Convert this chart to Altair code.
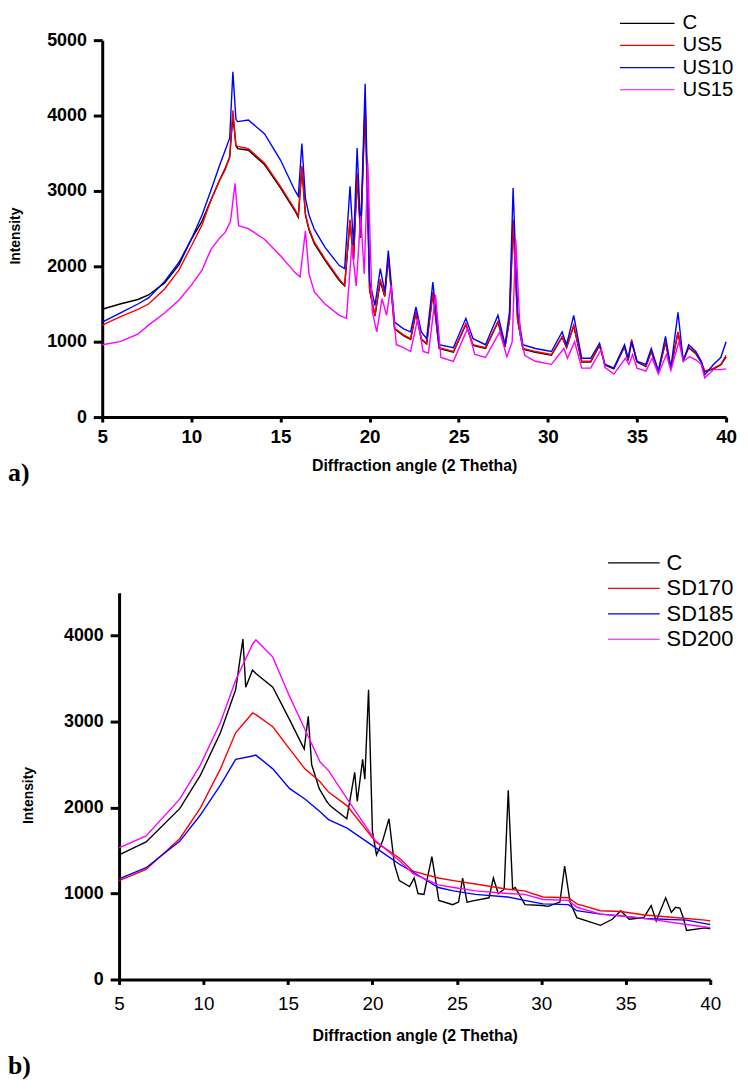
import altair as alt
import pandas as pd

# ---------------- panel a) ----------------
A_NAMES = ["C", "US5", "US10", "US15"]
A_COLORS = ["#000000", "#ff0000", "#0000ff", "#ff00ff"]

A_X = [5, 6, 7, 7.6, 8.5, 9.3, 10, 10.6, 11.1, 11.6, 11.9, 12.15, 12.33, 12.5, 12.6, 13.2, 14.1,
       15, 15.8, 16.0, 16.2, 16.4, 16.6, 16.9, 17.5, 18.3, 18.6, 18.9, 19.1, 19.3, 19.5, 19.75,
       20.0, 20.3, 20.6, 20.85, 21.05, 21.4, 21.9, 22.3, 22.6, 22.9, 23.2, 23.55, 23.9, 24.7,
       25.4, 25.8, 26.5, 27.2, 27.6, 27.85, 28.05, 28.3, 28.6, 29.3, 30.2, 30.8, 31.05, 31.45,
       31.9, 32.4, 32.9, 33.2, 33.7, 34.3, 34.5, 34.7, 35.0, 35.5, 35.8, 36.2, 36.6, 36.9, 37.3,
       37.6, 37.9, 38.3, 38.6, 38.8, 39.3, 39.7, 40.0]
A_C = [1430, 1500, 1560, 1620, 1780, 2020, 2360, 2600, 2880, 3150, 3300, 3450, 4000, 3600, 3560,
       3540, 3350, 3040, 2740, 2650, 3300, 2680, 2480, 2300, 2080, 1810, 1740, 2600, 2080, 3200,
       2380, 4150, 1680, 1340, 1800, 1600, 2120, 1170, 1080, 1030, 1380, 1030, 970, 1640, 910,
       860, 1230, 950, 910, 1260, 930, 1290, 2600, 1290, 900, 860, 820, 1060, 920, 1210, 730,
       730, 950, 690, 640, 930, 750, 1000, 730, 670, 870, 600, 990, 640, 1120, 750, 920, 840,
       730, 600, 640, 690, 800]
A_US5 = [1220, 1330, 1430, 1500, 1700, 1950, 2270, 2550, 2880, 3150, 3280, 3450, 4070, 3600, 3590,
         3560, 3370, 3060, 2760, 2670, 3330, 2700, 2500, 2320, 2100, 1830, 1750, 2620, 2100, 3240,
         2400, 4200, 1700, 1350, 1830, 1610, 2140, 1180, 1090, 1040, 1400, 1040, 980, 1660, 920,
         870, 1240, 960, 920, 1270, 940, 1300, 2620, 1300, 910, 870, 830, 1070, 930, 1220, 740,
         740, 960, 700, 650, 940, 760, 1030, 740, 680, 880, 610, 1000, 650, 1130, 760, 930, 850,
         740, 610, 650, 700, 820]
A_US10 = [1260, 1380, 1500, 1580, 1800, 2050, 2360, 2680, 3010, 3350, 3540, 3700, 4580, 3950, 3920,
          3940, 3760, 3410, 3010, 2930, 3630, 2900, 2680, 2490, 2250, 2010, 1970, 3060, 2280, 3570,
          2450, 4420, 1800, 1480, 1970, 1660, 2210, 1260, 1170, 1130, 1460, 1130, 1040, 1790, 960,
          920, 1310, 1040, 960, 1350, 960, 1400, 3040, 1400, 960, 910, 870, 1130, 960, 1350, 780,
          780, 980, 700, 650, 960, 780, 1000, 740, 700, 910, 610, 1070, 650, 1390, 740, 960, 870,
          740, 560, 700, 790, 1000]
A_X15 = [5, 6, 7, 7.6, 8.5, 9.3, 10, 10.6, 11.1, 11.6, 11.9, 12.2, 12.45, 12.65, 13.2, 14.1, 15,
         15.8, 16.1, 16.4, 16.6, 16.9, 17.5, 18.3, 18.7, 19.0, 19.25, 19.5, 19.7, 19.9, 20.15, 20.4,
         20.7, 20.95, 21.2, 21.5, 21.9, 22.3, 22.7, 23.0, 23.3, 23.7, 24.0, 24.7, 25.5, 25.9, 26.5,
         27.3, 27.7, 28.0, 28.2, 28.45, 28.7, 29.3, 30.2, 30.9, 31.1, 31.5, 31.9, 32.4, 33.0, 33.2,
         33.7, 34.35, 34.55, 34.75, 35.0, 35.5, 35.85, 36.2, 36.65, 36.9, 37.35, 37.6, 37.95, 38.3,
         38.6, 38.8, 39.3, 39.7, 40.0]
A_US15 = [960, 1000, 1100, 1220, 1380, 1550, 1750, 1950, 2225, 2380, 2450, 2600, 3100, 2540, 2500,
          2360, 2140, 1920, 1860, 2470, 1900, 1660, 1500, 1350, 1310, 2270, 1740, 2670, 1900, 3370,
          1400, 1130, 1570, 1350, 1750, 960, 920, 870, 1310, 870, 850, 1620, 790, 740, 1180, 830,
          790, 1130, 800, 1000, 2360, 1100, 820, 740, 700, 910, 780, 1000, 650, 650, 900, 660, 570,
          780, 700, 830, 650, 610, 780, 570, 830, 620, 1000, 740, 800, 760, 700, 520, 630, 630, 640]

# ---------------- panel b) ----------------
B_NAMES = ["C", "SD170", "SD185", "SD200"]
B_COLORS = ["#000000", "#ff0000", "#0000ff", "#ff00ff"]

B_XC = [5, 6.6, 8.6, 9.8, 11.0, 11.9, 12.33, 12.5, 12.9, 13.1, 14.1, 15.1, 15.96, 16.2, 16.4, 16.85,
        17.3, 17.5, 18.48, 18.95, 19.1, 19.42, 19.55, 19.77, 20.0, 20.24, 20.6, 20.98, 21.3, 21.59,
        22.2, 22.47, 22.7, 23.05, 23.52, 23.93, 24.75, 25.1, 25.34, 25.6, 26.1, 26.9, 27.16, 27.45,
        27.8, 28.04, 28.3, 28.45, 29.03, 30.09, 30.4, 31.1, 31.38, 31.7, 32.1, 33.5, 34.2, 34.7,
        35.2, 36.07, 36.5, 36.8, 37.36, 37.7, 37.94, 38.2, 38.4, 38.6, 39.7, 40.0]
B_C = [1450, 1600, 1990, 2370, 2870, 3370, 3960, 3400, 3600, 3560, 3400, 3020, 2680, 3060, 2500,
       2220, 2070, 2020, 1870, 2410, 2070, 2560, 2330, 3370, 1720, 1450, 1610, 1870, 1340, 1150,
       1080, 1180, 1000, 990, 1430, 920, 870, 900, 1180, 900, 920, 950, 1180, 1000, 1050, 2200,
       1050, 1070, 870, 860, 850, 900, 1320, 900, 720, 630, 700, 800, 700, 720, 860, 680, 950,
       780, 840, 830, 720, 570, 600, 590]
B_X = [5, 6.6, 8.6, 9.8, 11.0, 11.9, 12.9, 13.1, 14.1, 15.1, 16.0, 16.9, 17.4, 18.5, 20.2, 21.6,
       22.4, 23.9, 24.8, 26.1, 28.0, 29.0, 30.1, 31.6, 32.1, 33.5, 34.7, 36.1, 38.6, 39.7, 40.0]
B_SD170 = [1150, 1280, 1640, 1990, 2450, 2870, 3100, 3080, 2940, 2680, 2450, 2300, 2180, 2020, 1600,
           1410, 1260, 1180, 1150, 1110, 1050, 1030, 960, 950, 880, 800, 790, 750, 710, 690, 680]
B_SD185 = [1170, 1300, 1610, 1910, 2260, 2560, 2600, 2610, 2450, 2220, 2100, 1950, 1860, 1760, 1530,
           1340, 1250, 1070, 1030, 990, 960, 920, 880, 870, 800, 760, 740, 710, 690, 650, 640]
B_SD200 = [1530, 1670, 2100, 2490, 2990, 3480, 3900, 3950, 3750, 3290, 2910, 2530, 2430, 2100, 1610,
           1380, 1230, 1100, 1070, 1030, 1000, 990, 930, 920, 840, 760, 740, 710, 640, 610, 600]

X_TICKS = [5, 10, 15, 20, 25, 30, 35, 40]
A_Y_TICKS = [0, 1000, 2000, 3000, 4000, 5000]
B_Y_TICKS = [0, 1000, 2000, 3000, 4000]
X_TITLE = "Diffraction angle (2 Thetha)"
Y_TITLE = "Intensity"


def long_df(names, xs, ys):
    rows = []
    for k, (n, xv, yv) in enumerate(zip(names, xs, ys)):
        for a, b in zip(xv, yv):
            rows.append({"series": n, "ord": k, "x": a, "y": b})
    return pd.DataFrame(rows)


df_a = long_df(A_NAMES, [A_X, A_X, A_X, A_X15], [A_C, A_US5, A_US10, A_US15])
df_b = long_df(B_NAMES, [B_XC, B_X, B_X, B_X], [B_C, B_SD170, B_SD185, B_SD200])

SANS = "Liberation Sans"
NARROW = "'Liberation Sans Narrow', 'Arial Narrow', 'Liberation Sans', sans-serif"

# layout of the single canvas (pixels, relative to panel a's plot origin)
W = 629
H = 947
A_YR = [380, 0]
B_XR = [17, 613]
B_YR = [947, 557]


def axis_common():
    return dict(labelColor="black", labelOverlap=False, tickColor="black", tickWidth=3,
                domainColor="black", domainWidth=3, grid=False, titleColor="black", titleFont=SANS)


def lines_layer(df, names, colors, xr, yr, ydom, yticks, x_offset, y_offset, ytitle_xy,
                xtitle_y, xlab_weight, xlab_font, xlab_pad):
    return alt.Chart(df).mark_line(strokeWidth=1.4).encode(
        x=alt.X("x:Q", scale=alt.Scale(domain=[5, 40], range=xr, nice=False, zero=False),
                axis=alt.Axis(orient="bottom", offset=x_offset, values=X_TICKS, format="d",
                              title=X_TITLE, titleFontSize=16, titleFontWeight="bold",
                              titleY=xtitle_y, titleBaseline="middle",
                              labelFont=xlab_font, labelFontSize=19, labelFontWeight=xlab_weight,
                              labelFlush=False, labelPadding=xlab_pad, tickSize=5,
                              **axis_common())),
        y=alt.Y("y:Q", scale=alt.Scale(domain=ydom, range=yr, nice=False),
                axis=alt.Axis(orient="left", offset=y_offset, values=yticks, format="d",
                              title=Y_TITLE, titleFontSize=14, titleFontWeight="bold",
                              titleX=ytitle_xy[0], titleY=ytitle_xy[1], titleAngle=270,
                              titleAlign="center", titleBaseline="middle",
                              labelFont=SANS, labelFontSize=18, labelFontWeight="bold",
                              labelPadding=7, tickSize=9, **axis_common())),
        color=alt.Color("series:N", scale=alt.Scale(domain=names, range=colors), legend=None),
        order=alt.Order("x:Q"),
    )


def legend_layers(names, colors, xs, rows, fsize):
    leg_df = pd.DataFrame({"series": names, "row": list(range(len(names)))})
    ly = alt.Y("row:Q", scale=alt.Scale(domain=[0, len(names) - 1], range=rows), axis=None)
    rules = alt.Chart(leg_df).mark_rule(strokeWidth=1.2).encode(
        x=alt.value(xs[0]), x2=alt.value(xs[1]), y=ly,
        color=alt.Color("series:N", scale=alt.Scale(domain=names, range=colors), legend=None))
    texts = alt.Chart(leg_df).mark_text(align="left", baseline="middle", font=SANS,
                                        fontSize=fsize, color="black").encode(
        x=alt.value(xs[2]), y=ly, text="series:N")
    return [rules, texts]


def tag(label, x, y):
    return alt.Chart(pd.DataFrame({"t": [label]})).mark_text(
        align="left", baseline="middle", font="Liberation Serif", fontSize=26,
        fontWeight="bold", color="black").encode(x=alt.value(x), y=alt.value(y), text="t:N")


lines_a = lines_layer(df_a, A_NAMES, A_COLORS, [0, W], A_YR, [0, 5000], A_Y_TICKS,
                      -(H - A_YR[0]), 0, (-87, 197), 49, "bold", SANS, 6)
lines_b = lines_layer(df_b, B_NAMES, B_COLORS, B_XR, B_YR, [0, 4500], B_Y_TICKS,
                      0, -B_XR[0], (-91, B_YR[1] + 204), 57, "normal", NARROW, 10)

layers = [lines_a, lines_b]
layers += legend_layers(A_NAMES, A_COLORS, (522, 577, 585), [-17, 50], 20.5)
layers += legend_layers(B_NAMES, B_COLORS, (510, 562, 569), [527, 604], 22)
layers += [tag("a)", -95, 436), tag("b)", -95, 1034)]

chart = alt.layer(*layers).resolve_scale(
    x="independent", y="independent", color="independent"
).properties(
    width=W, height=H,
    autosize=alt.AutoSizeParams(type="none"),
    padding={"left": 95, "top": 28, "right": 14, "bottom": 106},
).configure_view(stroke=None)

chart.save("out.html", embed_options={"renderer": "svg", "actions": False})
